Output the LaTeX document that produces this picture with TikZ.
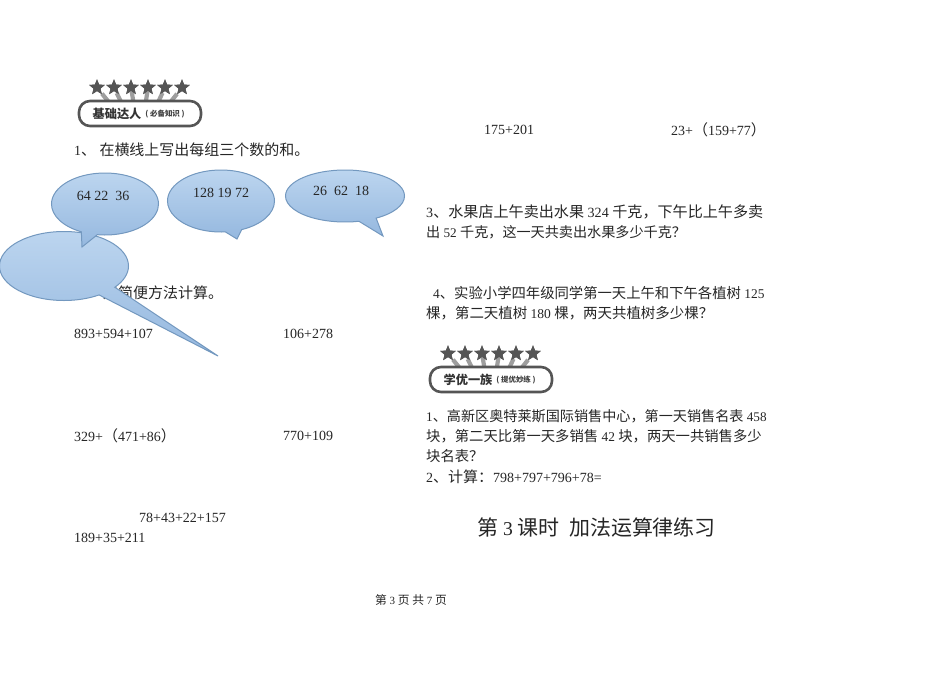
\documentclass[tikz,border=0pt]{standalone}
\usepackage{fontspec}
\setmainfont{Liberation Serif}
\newfontfamily\cjk[Scale=1.07]{Noto Sans CJK SC}
\usetikzlibrary{
  shapes.callouts,
  shapes.geometric,
  calc,
  }
\newcommand{\zh}[1]{{\cjk #1}}
\definecolor{bubbleline}{HTML}{7398BF}
\definecolor{bubbletop}{HTML}{BCD5EF}
\definecolor{bubblebottom}{HTML}{95B8DF}
\definecolor{badgegray}{HTML}{555555}
\tikzset{
  txt/.style={anchor=west, inner sep=0pt, font=\fontsize{14}{16}\selectfont, text=black!85},
  lsize/.style={font=\fontsize{#1}{16}\selectfont},
  bubble/.style={ellipse callout, draw=bubbleline, line width=1pt, top color=bubbletop, bottom color=bubblebottom,
    inner sep=0pt, outer sep=0pt, callout pointer arc=18},
  badgestar/.style={star, star points=5, star point ratio=2.3, fill=badgegray, inner sep=0pt, minimum size=16.5pt},
  badgebox/.style={rounded corners=11pt, draw=badgegray, line width=2.6pt, fill=white, minimum width=122pt, minimum height=25pt, inner sep=0pt},
  ray/.style={line width=4.2pt, draw=black!38},
}
\newcommand{\starbadge}[5]{% name, x, y, title, note
  \foreach \i/\dx in {1/-43,2/-26,3/-9,4/8,5/25,6/42} {
    \node[badgestar] (#1s\i) at (#2+\dx,#3-26) {};
    \coordinate (#1b\i) at (#2+0.7*\dx,#3-10);
    \draw[ray] (#1s\i) -- (#1b\i);
  }
  \foreach \i in {1,...,6} {
    \node[badgestar] at (#1s\i) {};
  }
  \node[badgebox] (#1) at (#2,#3) {};
  \node[inner sep=0pt, font=\fontsize{11.4}{13}\selectfont\bfseries\cjk, text=black!80] (#1t) at (#2-23,#3) {#4};
  \node[inner sep=0pt, font=\fontsize{7}{8}\selectfont\bfseries\cjk, text=black!75] (#1n) at (#2+25,#3+1) {#5};
}
\begin{document}
\begin{tikzpicture}[x=1pt, y=-1pt]
  \useasboundingbox[fill=white] (0,0) rectangle (950,672);

  \starbadge{basic}{140}{113.5}{基础达人}{( 必备知识 )}
  \starbadge{top}{491}{379.5}{学优一族}{( 提优妙练 )}

  \node[txt] (q1) at (74,150) {1\zh{、 在横线上写出每组三个数的和。}};
  \node[txt] (q2) at (103,293) {\zh{用简便方法计算。}};

  \node[bubble, minimum width=129pt, minimum height=69pt, callout pointer arc=19, callout absolute pointer={(218,356)}] (b4) at (64,266) {};
  \node[bubble, minimum width=107pt, minimum height=62pt, callout absolute pointer={(82,247)}] (b1) at (105,204) {};
  \node[bubble, minimum width=107pt, minimum height=62pt, callout absolute pointer={(237,239)}] (b2) at (221,201) {};
  \node[bubble, minimum width=119pt, minimum height=52pt, callout absolute pointer={(383,236)}] (b3) at (345,196) {};
  \node[txt, anchor=center] (b1t) at (103,196) {64 22~~36};
  \node[txt, anchor=center] (b2t) at (221,193) {128 19 72};
  \node[txt, anchor=center] (b3t) at (341,191) {26~~62~~18};

  \node[txt] (e1) at (74,334) {893+594+107};
  \node[txt] (e2) at (283,334) {106+278};
  \node[txt] (e3) at (74,436) {329+\zh{（}471+86\zh{）}};
  \node[txt] (e4) at (283,436) {770+109};
  \node[txt] (e5) at (139,518) {78+43+22+157};
  \node[txt] (e6) at (74,538) {189+35+211};
  \node[txt] (e7) at (484,130) {175+201};
  \node[txt] (e8) at (671,130) {23+\zh{（}159+77\zh{）}};

  \node[txt, lsize=14.1] (q3a) at (426,212) {3\zh{、水果店上午卖出水果} 324 \zh{千克，下午比上午多卖}};
  \node[txt, lsize=13.2] (q3b) at (426,232) {\zh{出} 52 \zh{千克，这一天共卖出水果多少千克？}};
  \node[txt, lsize=13.4] (q4a) at (433,293) {4\zh{、实验小学四年级同学第一天上午和下午各植树} 125};
  \node[txt, lsize=13.5] (q4b) at (426,313) {\zh{棵，第二天植树} 180 \zh{棵，两天共植树多少棵？}};

  \node[txt, lsize=13.2] (t1a) at (426,416) {1\zh{、高新区奥特莱斯国际销售中心，第一天销售名表} 458};
  \node[txt, lsize=13.4] (t1b) at (426,436) {\zh{块，第二天比第一天多销售} 42 \zh{块，两天一共销售多少}};
  \node[txt, lsize=13.4] (t1c) at (426,456) {\zh{块名表？}};
  \node[txt] (t2) at (426,477) {2\zh{、计算：}798+797+796+78=};

  \node[txt, lsize=19.6] (title) at (477,528) {\zh{第} 3 \zh{课时~~加法运算律练习}};
  \node[txt, lsize=11] (foot) at (375,600) {\zh{第} 3 \zh{页 共} 7 \zh{页}};
\end{tikzpicture}
\end{document}
